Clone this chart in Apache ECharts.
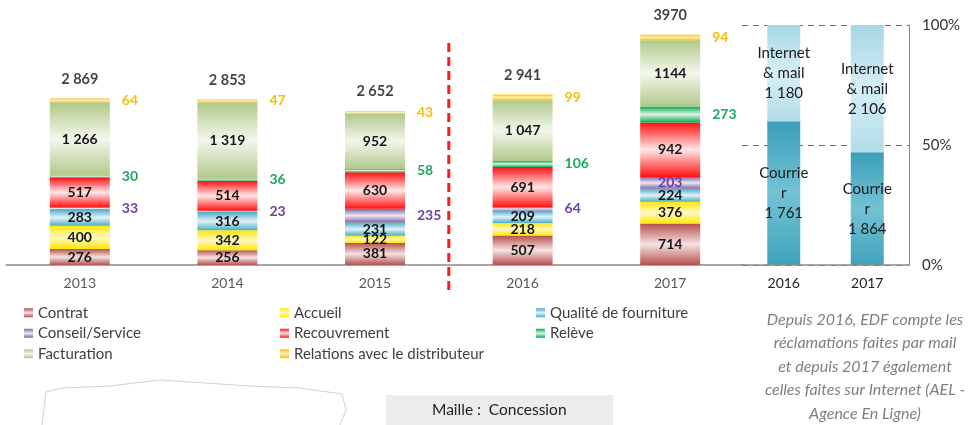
<!DOCTYPE html>
<html><head><meta charset="utf-8">
<script src="https://cdn.jsdelivr.net/npm/echarts@6/dist/echarts.min.js"></script>
<style>html,body{margin:0;padding:0;background:#fff}#c{width:975px;height:425px}</style>
</head><body><div id="c"></div>
<script>
// ---- data ----
const years = ['2013', '2014', '2015', '2016', '2017'];
const contrat = [276, 256, 381, 507, 714];
const accueil = [400, 342, 122, 218, 376];
const qualite = [283, 316, 231, 209, 224];
const conseil = [33, 23, 235, 64, 203];
const recouvrement = [517, 514, 630, 691, 942];
const releve = [30, 36, 58, 106, 273];
const facturation = [1266, 1319, 952, 1047, 1144];
const relations = [64, 47, 43, 99, 94];
const totals = [2869, 2853, 2652, 2941, 3970];
const groupThousands = [true, true, true, true, false];

const canalYears = ['2016', '2017'];
const courrier = [1761, 1864];
const internet = [1180, 2106];

// ---- helpers ----
const FONT = 'Lato, "Open Sans", sans-serif';
function fmt(v, grp) {
  const s = String(v);
  return (grp && v >= 1000) ? s.slice(0, s.length - 3) + ' ' + s.slice(-3) : s;
}
function grad(edge, mid) {
  return new echarts.graphic.LinearGradient(0, 0, 0, 1, [
    { offset: 0, color: edge }, { offset: 0.5, color: mid }, { offset: 1, color: edge }]);
}
const styles = {
  'Contrat': grad('#b5504e', '#f6e2e2'),
  'Accueil': grad('#ffe800', '#fff8c8'),
  'Qualité de fourniture': grad('#4bacc6', '#e2f2f7'),
  'Conseil/Service': grad('#7d67a3', '#ece8f3'),
  'Recouvrement': grad('#ff1010', '#ffe8e8'),
  'Relève': grad('#00b050', '#dff3e6'),
  'Facturation': grad('#b0c98a', '#f4f7ec'),
  'Relations avec le distributeur': grad('#ffc000', '#fff0c0')
};
const insideLabel = {
  show: true, position: 'inside', color: '#151515', fontWeight: 'bold',
  fontSize: 14, fontFamily: FONT,
  formatter: p => fmt(p.value, groupThousands[p.dataIndex])
};
function sideLabel(color) {
  return { show: true, position: 'right', distance: 12, color: color, fontWeight: 'bold',
    fontSize: 14, fontFamily: FONT, formatter: p => fmt(p.value, groupThousands[p.dataIndex]) };
}
function barSeries(name, data, label) {
  return { name: name, type: 'bar', stack: 'rec', xAxisIndex: 0, yAxisIndex: 0,
    barWidth: 60, data: data, itemStyle: { color: styles[name] }, label: label,
    emphasis: { disabled: true } };
}

const conseilData = conseil.map((v, i) => i === 4
  ? { value: v, label: { position: 'inside', distance: 5 } } : v);

const total2 = courrier.map((v, i) => v + internet[i]);
const courrierPct = courrier.map((v, i) => v / total2[i] * 100);
const internetPct = internet.map((v, i) => v / total2[i] * 100);

const legendBase = {
  orient: 'vertical', top: 300, itemWidth: 9, itemHeight: 9, itemGap: 5,
  icon: 'rect', selectedMode: false,
  textStyle: { color: '#404040', fontSize: 15, lineHeight: 15.5, fontFamily: FONT }
};

const chart = echarts.init(document.getElementById('c'));
chart.setOption({
  animation: false,
  textStyle: { fontFamily: FONT },
  grid: [
    { left: 6, right: 231, top: 33, bottom: 160 },
    { left: 742, right: 66, top: 25, bottom: 160 }
  ],
  xAxis: [
    { type: 'category', gridIndex: 0, data: years,
      axisLine: { lineStyle: { color: '#8a8a8a', width: 1.5 } },
      axisTick: { length: 4, lineStyle: { color: '#8a8a8a' } },
      axisLabel: { color: '#595959', fontSize: 14, margin: 11, fontFamily: FONT } },
    { type: 'value', gridIndex: 0, min: -0.5, max: 4.5, show: false },
    { type: 'category', gridIndex: 1, data: canalYears, z: 5,
      axisLine: { lineStyle: { color: '#8a8a8a', width: 1.5 } },
      axisTick: { length: 4, lineStyle: { color: '#8a8a8a' } },
      axisLabel: { color: '#222', fontSize: 14, margin: 11, fontFamily: FONT } }
  ],
  yAxis: [
    { type: 'value', gridIndex: 0, min: 0, max: 4000, show: false },
    { type: 'value', gridIndex: 1, min: 0, max: 100, interval: 50, position: 'right',
      axisLine: { show: true, lineStyle: { color: '#8a8a8a' } },
      axisTick: { show: false },
      axisLabel: { color: '#333', fontSize: 15, margin: 13, fontFamily: FONT, formatter: '{value}%' },
      splitLine: { show: true, lineStyle: { type: [6, 5], color: '#6a6a6a', width: 1 } } }
  ],
  legend: [
    Object.assign({}, legendBase, { left: 19, data: ['Contrat', 'Conseil/Service', 'Facturation'] }),
    Object.assign({}, legendBase, { left: 275, data: ['Accueil', 'Recouvrement', 'Relations avec le distributeur'] }),
    Object.assign({}, legendBase, { left: 531, data: ['Qualité de fourniture', 'Relève'] })
  ],
  series: [
    barSeries('Contrat', contrat, insideLabel),
    barSeries('Accueil', accueil, insideLabel),
    barSeries('Qualité de fourniture', qualite, insideLabel),
    barSeries('Conseil/Service', conseilData, sideLabel('#6f3ea6')),
    barSeries('Recouvrement', recouvrement, insideLabel),
    barSeries('Relève', releve, sideLabel('#1fa863')),
    barSeries('Facturation', facturation, insideLabel),
    barSeries('Relations avec le distributeur', relations, sideLabel('#f5c000')),
    { name: 'Total', type: 'scatter', xAxisIndex: 0, yAxisIndex: 0, symbolSize: 0,
      data: totals, silent: true,
      label: { show: true, position: 'top', distance: 12, color: '#111', fontWeight: 'bold',
        fontSize: 14.5, fontFamily: FONT,
        formatter: p => fmt(p.value, groupThousands[p.dataIndex]) } },
    { name: 'divider', type: 'line', xAxisIndex: 1, yAxisIndex: 0, clip: false,
      symbol: 'none', silent: true, data: [[2.5, -430], [2.5, 3880]],
      lineStyle: { color: '#ff1a1a', width: 3, type: [9, 5] } },
    { name: 'Courrier', type: 'bar', stack: 'canal', xAxisIndex: 2, yAxisIndex: 1,
      barWidth: 33, data: courrierPct,
      itemStyle: { color: new echarts.graphic.LinearGradient(0, 0, 0, 1, [
        { offset: 0, color: '#3a9fb8' }, { offset: 0.5, color: '#74c2d5' }, { offset: 1, color: '#3fa3bb' }]) },
      label: { show: true, position: 'inside', color: '#1a1a1a', fontSize: 15, lineHeight: 20,
        fontFamily: FONT, formatter: p => 'Courrie\nr\n' + fmt(courrier[p.dataIndex], true) } },
    { name: 'Internet & mail', type: 'bar', stack: 'canal', xAxisIndex: 2, yAxisIndex: 1,
      barWidth: 33, data: internetPct,
      itemStyle: { color: new echarts.graphic.LinearGradient(0, 0, 0, 1, [
        { offset: 0, color: '#a6d7e5' }, { offset: 0.5, color: '#d6eef5' }, { offset: 1, color: '#b2dde9' }]) },
      label: { show: true, position: 'inside', color: '#1a1a1a', fontSize: 15, lineHeight: 20,
        fontFamily: FONT, formatter: p => 'Internet\n& mail\n' + fmt(internet[p.dataIndex], true) } }
  ],
  graphic: [
    { type: 'polyline', silent: true, z: -1,
      shape: { points: [[42, 425], [46, 392], [62, 388], [110, 386], [160, 380], [205, 383], [250, 386], [300, 388], [342, 394], [346, 410], [340, 425]] },
      style: { stroke: '#c4c4c4', lineWidth: 0.8, fill: null } },
    { type: 'rect', left: 386, top: 395, shape: { width: 227, height: 30 },
      style: { fill: '#ececec' }, silent: true },
    { type: 'text', left: 432, top: 402,
      style: { text: 'Maille :  Concession', fill: '#222', font: '15.5px ' + FONT } },
    { type: 'text', x: 865, y: 308,
      style: { text: 'Depuis 2016, EDF compte les\nréclamations faites par mail\net depuis 2017 également\ncelles faites sur Internet (AEL -\nAgence En Ligne)',
        fill: '#7f7f7f', align: 'center', verticalAlign: 'top', lineHeight: 23.5,
        font: 'italic 16px ' + FONT } }
  ]
});
</script>
</body></html>
